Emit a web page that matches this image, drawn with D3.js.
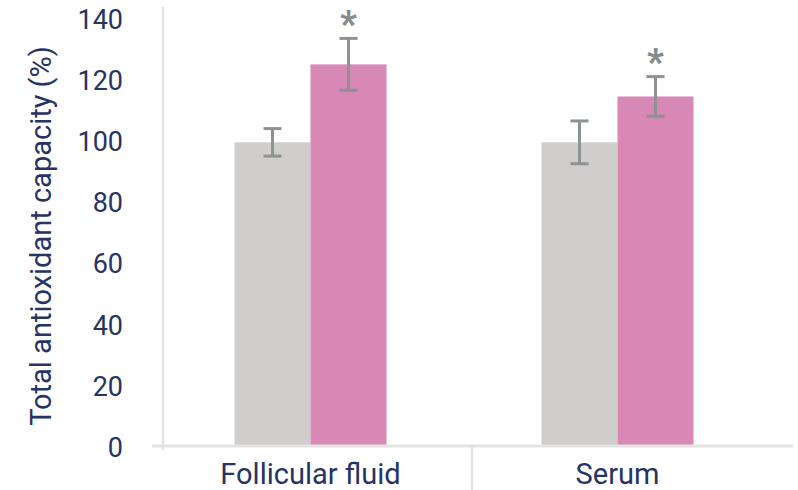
<!DOCTYPE html>
<html><head><meta charset="utf-8">
<script src="https://cdn.jsdelivr.net/npm/d3@7"></script>
<style>body{margin:0;background:#fff}svg{display:block}</style>
</head><body>
<svg id="chart" width="798" height="490"></svg>
<script>
const categories = ["Follicular fluid", "Serum"];
const seriesNames = ["Control", "Treatment"];
const controlValues = [99, 99];
const controlErrors = [4.5, 7];
const treatmentValues = [124.5, 114];
const treatmentErrors = [8.5, 6.5];
const significant = [true, true];
const yTicks = [0, 20, 40, 60, 80, 100, 120, 140];
const yTitle = "Total antioxidant capacity (%)";

const textColor = "#253465";
const colors = ["#cfcecc", "#d788b4"];
const errColor = "#8d9292";
const axisColor = "#e3e3e1";
const font = "Roboto, 'Noto Sans', sans-serif";

const svg = d3.select("#chart");
const y = d3.scaleLinear().domain([0, 140]).range([445, 17]);
const x = d3.scaleBand().domain(categories).range([157, 771]).padding(0);
const xs = d3.scaleBand().domain(seriesNames).range([0, x.bandwidth()]).paddingInner(0).paddingOuter(1.02);

const data = categories.map((c, i) => ({
  cat: c,
  sig: significant[i],
  vals: [
    {s: seriesNames[0], v: controlValues[i], e: controlErrors[i], c: colors[0]},
    {s: seriesNames[1], v: treatmentValues[i], e: treatmentErrors[i], c: colors[1]}
  ]
}));

const yAxis = d3.axisLeft(y).tickValues(yTicks).tickSize(0).tickPadding(40);
const gy = svg.append("g").attr("transform", "translate(163,0)").call(yAxis);
gy.select(".domain").remove();
gy.selectAll("text").attr("fill", textColor).attr("font-family", font).attr("font-weight", 400)
  .attr("font-size", 27).attr("dy", "0.42em");

svg.append("line").attr("x1", 163).attr("x2", 163).attr("y1", 7).attr("y2", 450)
  .attr("stroke", axisColor).attr("stroke-width", 2.5);

const groups = svg.append("g").selectAll("g").data(data).join("g")
  .attr("transform", d => `translate(${x(d.cat)},0)`);
groups.selectAll("rect").data(d => d.vals).join("rect")
  .attr("x", d => xs(d.s)).attr("width", xs.bandwidth())
  .attr("y", d => y(d.v)).attr("height", d => y(0) - y(d.v))
  .attr("fill", d => d.c);

const eb = groups.selectAll("g.err").data(d => d.vals).join("g").attr("class", "err")
  .attr("stroke", errColor).attr("stroke-width", 3);
eb.append("line").attr("x1", d => xs(d.s) + xs.bandwidth()/2).attr("x2", d => xs(d.s) + xs.bandwidth()/2)
  .attr("y1", d => y(d.v + d.e)).attr("y2", d => y(d.v - d.e));
eb.append("line").attr("x1", d => xs(d.s) + xs.bandwidth()/2 - 9).attr("x2", d => xs(d.s) + xs.bandwidth()/2 + 9)
  .attr("y1", d => y(d.v + d.e)).attr("y2", d => y(d.v + d.e));
eb.append("line").attr("x1", d => xs(d.s) + xs.bandwidth()/2 - 9).attr("x2", d => xs(d.s) + xs.bandwidth()/2 + 9)
  .attr("y1", d => y(d.v - d.e)).attr("y2", d => y(d.v - d.e));

groups.filter(d => d.sig).append("text")
  .attr("x", xs(seriesNames[1]) + xs.bandwidth()/2)
  .attr("y", d => y(d.vals[1].v + d.vals[1].e) - 6)
  .attr("text-anchor", "middle").attr("fill", "#868b8b")
  .attr("font-family", font).attr("font-weight", 900).attr("font-size", 36)
  .attr("dy", "0.6em").attr("transform", "translate(0,-18)")
  .text("*");

svg.append("line").attr("x1", 152).attr("x2", 793).attr("y1", 446).attr("y2", 446)
  .attr("stroke", axisColor).attr("stroke-width", 3);
svg.append("line").attr("x1", x(categories[1]) + 8).attr("x2", x(categories[1]) + 8)
  .attr("y1", 446).attr("y2", 490).attr("stroke", axisColor).attr("stroke-width", 2.5);

svg.append("g").selectAll("text").data(categories).join("text")
  .attr("x", d => x(d) + x.bandwidth()/2).attr("y", 484)
  .attr("text-anchor", "middle").attr("fill", textColor)
  .attr("font-family", font).attr("font-weight", 400).attr("font-size", 29).text(d => d);

svg.append("text").attr("transform", `translate(51,${y(70) + 5}) rotate(-90)`)
  .attr("text-anchor", "middle").attr("fill", textColor)
  .attr("font-family", font).attr("font-weight", 400).attr("font-size", 29).text(yTitle);
</script>
</body></html>
